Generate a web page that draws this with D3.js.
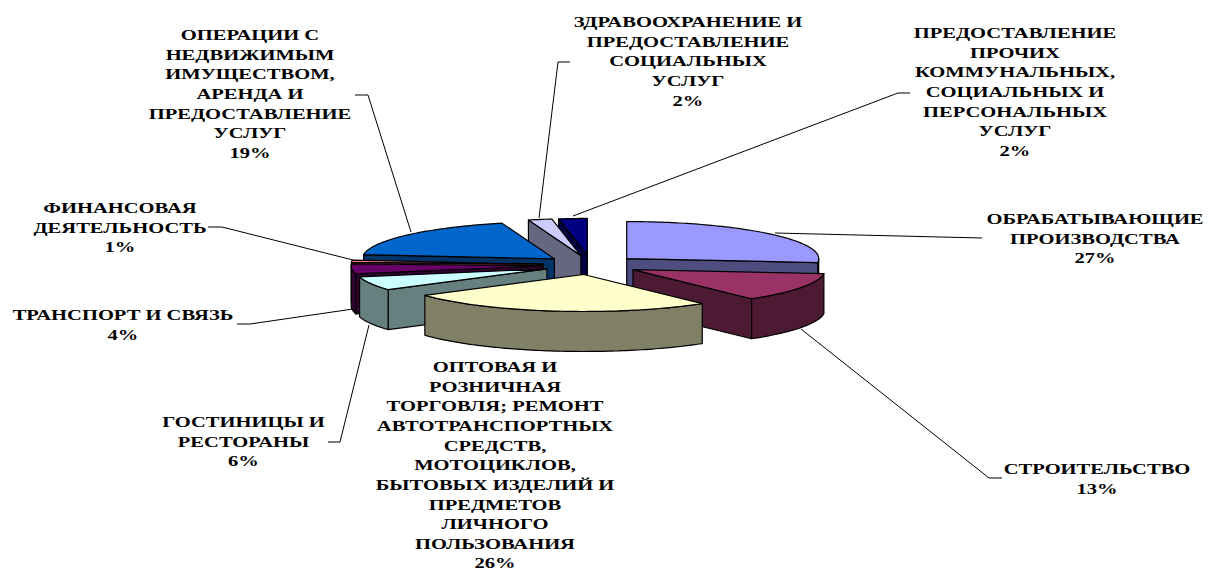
<!DOCTYPE html>
<html><head><meta charset="utf-8">
<script src="https://cdn.jsdelivr.net/npm/d3@7"></script>
<style>html,body{margin:0;padding:0;background:#fff}svg{display:block}text{font-family:"Liberation Serif",serif;font-weight:bold;fill:#000;text-anchor:middle}</style>
</head><body><svg id="c" width="1208" height="572"></svg>
<script>
const categories=["ОБРАБАТЫВАЮЩИЕ ПРОИЗВОДСТВА","СТРОИТЕЛЬСТВО","ОПТОВАЯ И РОЗНИЧНАЯ ТОРГОВЛЯ; РЕМОНТ АВТОТРАНСПОРТНЫХ СРЕДСТВ, МОТОЦИКЛОВ, БЫТОВЫХ ИЗДЕЛИЙ И ПРЕДМЕТОВ ЛИЧНОГО ПОЛЬЗОВАНИЯ","ГОСТИНИЦЫ И РЕСТОРАНЫ","ТРАНСПОРТ И СВЯЗЬ","ФИНАНСОВАЯ ДЕЯТЕЛЬНОСТЬ","ОПЕРАЦИИ С НЕДВИЖИМЫМ ИМУЩЕСТВОМ, АРЕНДА И ПРЕДОСТАВЛЕНИЕ УСЛУГ","ЗДРАВООХРАНЕНИЕ И ПРЕДОСТАВЛЕНИЕ СОЦИАЛЬНЫХ УСЛУГ","ПРЕДОСТАВЛЕНИЕ ПРОЧИХ КОММУНАЛЬНЫХ, СОЦИАЛЬНЫХ И ПЕРСОНАЛЬНЫХ УСЛУГ"];
const values=[26.7,12.7,26.1,6.0,4.3,1.0,18.8,2.0,2.4];
const topColors=["#9999FF","#993366","#FFFFCC","#CCFFFF","#660066","#FF8080","#0066CC","#CCCCFF","#000080"];
const labelLines=[
 ["ОБРАБАТЫВАЮЩИЕ","ПРОИЗВОДСТВА"],
 ["СТРОИТЕЛЬСТВО"],
 ["ОПТОВАЯ И","РОЗНИЧНАЯ","ТОРГОВЛЯ; РЕМОНТ","АВТОТРАНСПОРТНЫХ","СРЕДСТВ,","МОТОЦИКЛОВ,","БЫТОВЫХ ИЗДЕЛИЙ И","ПРЕДМЕТОВ","ЛИЧНОГО","ПОЛЬЗОВАНИЯ"],
 ["ГОСТИНИЦЫ И","РЕСТОРАНЫ"],
 ["ТРАНСПОРТ И СВЯЗЬ"],
 ["ФИНАНСОВАЯ","ДЕЯТЕЛЬНОСТЬ"],
 ["ОПЕРАЦИИ С","НЕДВИЖИМЫМ","ИМУЩЕСТВОМ,","АРЕНДА И","ПРЕДОСТАВЛЕНИЕ","УСЛУГ"],
 ["ЗДРАВООХРАНЕНИЕ И","ПРЕДОСТАВЛЕНИЕ","СОЦИАЛЬНЫХ","УСЛУГ"],
 ["ПРЕДОСТАВЛЕНИЕ","ПРОЧИХ","КОММУНАЛЬНЫХ,","СОЦИАЛЬНЫХ И","ПЕРСОНАЛЬНЫХ","УСЛУГ"]];
const labelCenterX=[1095,1097,495,243.5,123,120,250,688,1015];
const labelFirstY=[224,474,372,427,320,213,40,27,38];
const leaders=[
 [[775,233],[982,238]],
 [[801,329],[989,478],[1002,478]],
 [],
 [[369,325],[340,442],[328,442]],
 [[353,309],[250,324],[237,324]],
 [[353,260],[222,227],[208,227]],
 [[411,232],[368,95],[355,95]],
 [[539,218],[558,62],[570,62]],
 [[573,216],[898,93],[910,93]]];
const drawOrder=[8,7,6,5,4,3,0,1,2];

const cx=591,cy=265,rx=192,ry=37,explode=48,explodeY=.2,depth=40;
const lineH=19.65,fontSize=15,stretch=1.37;
const svg=d3.select("#c");
const arcs=d3.pie().sort(null).value(d=>d)(values);
const shade=c=>{const r=d3.rgb(c);return d3.rgb(r.r/2,r.g/2,r.b/2).formatHex()};
const pt=(a,ox,oy,dy=0)=>[ox+rx*Math.sin(a),oy-ry*Math.cos(a)+dy];
const arcPts=(a,b,ox,oy,dy=0)=>{const n=Math.max(2,Math.ceil((b-a)/.02));return d3.range(n+1).map(i=>pt(a+(b-a)*i/n,ox,oy,dy))};
const line=d3.line();
const closed=p=>line(p)+"Z";
const g=svg.append("g").attr("stroke","#000").attr("stroke-width",1.2).attr("stroke-linejoin","round");
drawOrder.forEach(i=>{
 const d=arcs[i],a=d.startAngle,b=d.endAngle,m=(a+b)/2;
 const ox=cx+explode*Math.sin(m),oy=cy-explode*explodeY*Math.cos(m);
 const side=shade(topColors[i]);
 const face=t=>{const e=pt(t,ox,oy);g.append("path").attr("d",closed([[ox,oy],e,[e[0],e[1]+depth],[ox,oy+depth]])).attr("fill",side)};
 if(Math.sin(a)<-1e-6)face(a);
 if(Math.sin(b)>1e-6)face(b);
 const s=Math.max(a,Math.PI/2),t=Math.min(b,Math.PI*1.5);
 if(t>s){
  const up=arcPts(s,t,ox,oy),dn=arcPts(s,t,ox,oy,depth).reverse();
  g.append("path").attr("d",closed(up.concat(dn))).attr("fill",side);
 }
 g.append("path").attr("d",closed([[ox,oy]].concat(arcPts(a,b,ox,oy)))).attr("fill",topColors[i]);
});
const lg=svg.append("g").attr("fill","none").attr("stroke","#000").attr("stroke-width",1);
leaders.forEach(p=>{ if(p.length) lg.append("path").attr("d",line(p)); });
const total=d3.sum(values);
labelLines.forEach((ls,i)=>{
 const t=svg.append("g").attr("transform",`translate(${labelCenterX[i]},${labelFirstY[i]}) scale(${stretch},1)`);
 ls.concat([d3.format(".0%")(values[i]/total)]).forEach((s,j)=>{
  t.append("text").attr("y",j*lineH).attr("font-size",fontSize).text(s);
 });
});
</script></body></html>
